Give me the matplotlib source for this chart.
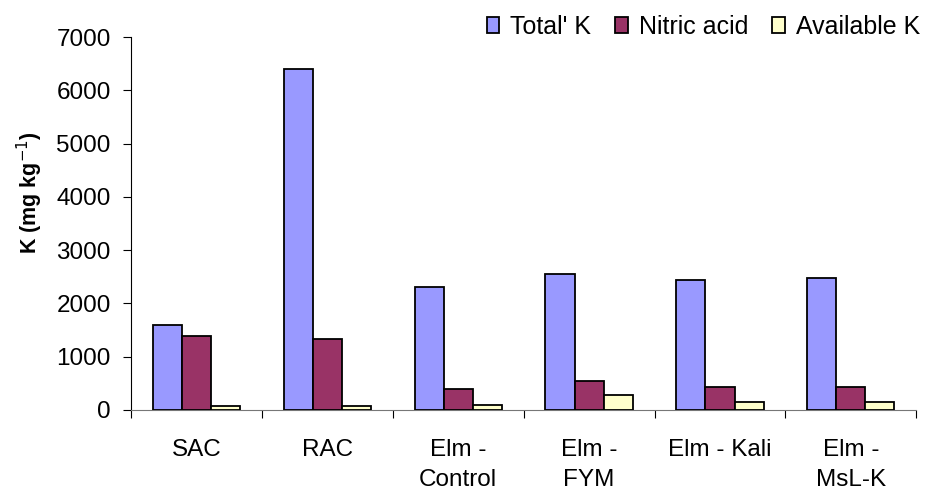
import matplotlib
matplotlib.use("Agg")
import matplotlib.pyplot as plt
import numpy as np

plt.rcParams['font.family'] = ['Liberation Sans', 'DejaVu Sans']

categories = ["SAC", "RAC", "Elm -\nControl", "Elm -\nFYM", "Elm - Kali", "Elm -\nMsL-K"]
total_k = [1600, 6400, 2310, 2550, 2440, 2470]
nitric_acid = [1380, 1340, 400, 550, 440, 440]
available_k = [80, 80, 100, 290, 150, 150]
series_names = ["Total' K", "Nitric acid", "Available K"]
colors = ["#9999FF", "#993366", "#FFFFCC"]
y_ticks = [0, 1000, 2000, 3000, 4000, 5000, 6000, 7000]

fig = plt.figure(figsize=(9.25, 4.91), dpi=100)
ax = fig.add_axes([0.1416, 0.165, 0.849, 0.7596])

x = np.arange(len(categories))
w = 1 / 4.5
for i, (vals, name, c) in enumerate(zip([total_k, nitric_acid, available_k], series_names, colors)):
    ax.bar(x + (i - 1) * w, vals, width=w, color=c, edgecolor="black", linewidth=1.3, label=name, zorder=3)

ax.set_xlim(-0.5, len(categories) - 0.5)
ax.set_ylim(0, 7000)
ax.set_yticks(y_ticks)
ax.tick_params(axis="y", labelsize=17.5, length=6, width=0.8, direction="out", pad=8.5)

ax.set_xticks(x)
ax.set_xticklabels(categories, fontsize=17.5, linespacing=1.45)
ax.tick_params(axis="x", which="major", length=0, pad=21)
ax.set_xticks(np.arange(len(categories) + 1) - 0.5, minor=True)
ax.tick_params(axis="x", which="minor", length=6, width=0.8, direction="out")
for lbl in ax.get_xticklabels():
    lbl.set_verticalalignment("top")

for s in ["top", "right"]:
    ax.spines[s].set_visible(False)
ax.spines["left"].set_linewidth(0.8)
ax.spines["bottom"].set_linewidth(0.8)
ax.spines["bottom"].set_color("#777777")

ax.set_ylabel("K (mg kg$^{-1}$)", fontsize=15.5, fontweight="bold")
ax.yaxis.set_label_coords(-0.11, 0.584)

fig.legend(loc="upper right", bbox_to_anchor=(1.0, 0.98), ncol=3, frameon=False,
           fontsize=18, handlelength=0.5, handleheight=0.55, handletextpad=0.45,
           columnspacing=0.95, borderaxespad=0.0, borderpad=0.2)

fig.savefig("out.png", dpi=100)
